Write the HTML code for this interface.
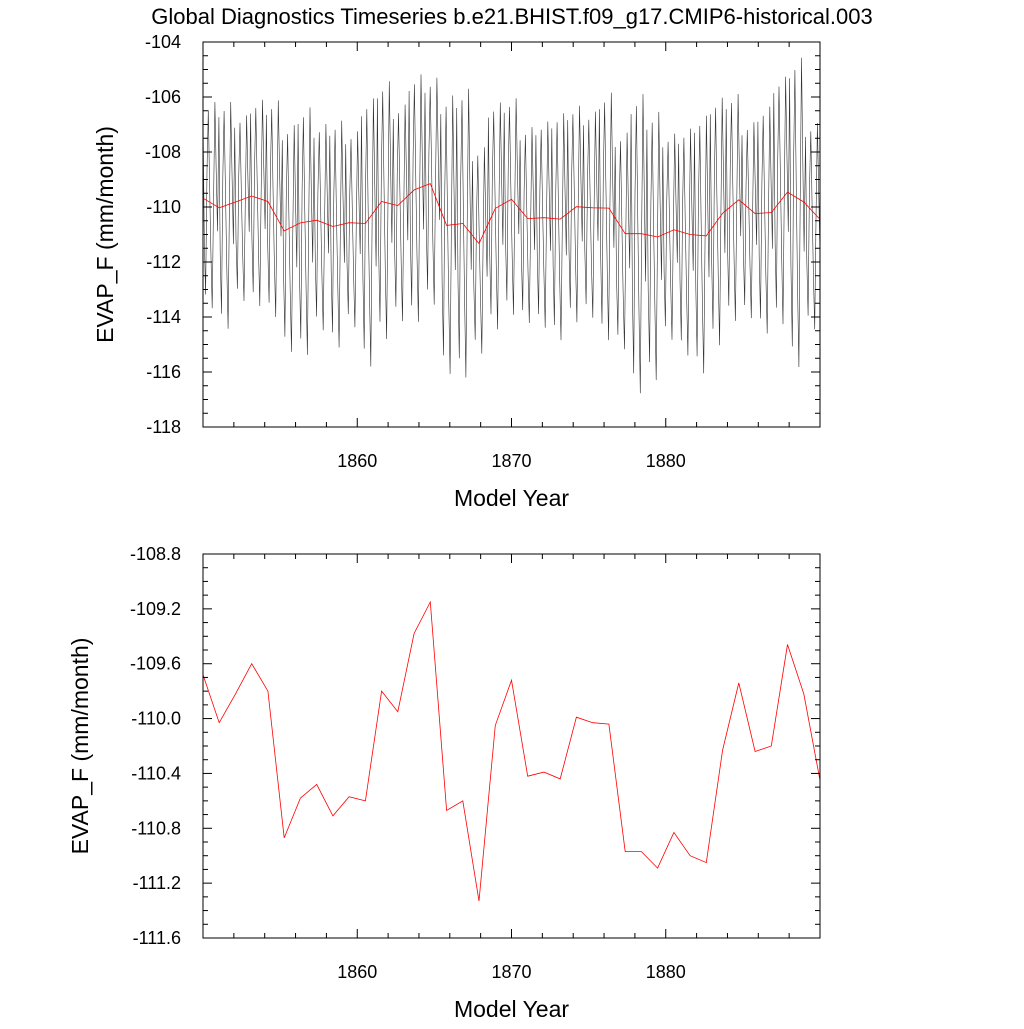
<!DOCTYPE html>
<html><head><meta charset="utf-8"><style>
body{margin:0;background:#fff}
text{font-family:"Liberation Sans",sans-serif;fill:#000}
</style></head><body>
<svg id="chart" width="1024" height="1024" xmlns="http://www.w3.org/2000/svg">
<text x="512" y="24" font-size="22" text-anchor="middle">Global Diagnostics Timeseries b.e21.BHIST.f09_g17.CMIP6-historical.003</text>
<g id="top"></g>
<g id="bot"></g>
</svg>
<script>
const annualMeans=[-109.68,-110.03,-109.82,-109.6,-109.8,-110.87,-110.58,-110.48,-110.71,-110.57,-110.6,-109.8,-109.95,-109.38,-109.15,-110.67,-110.6,-111.33,-110.05,-109.72,-110.42,-110.39,-110.44,-109.99,-110.03,-110.04,-110.97,-110.97,-111.09,-110.83,-111.0,-111.05,-110.23,-109.74,-110.24,-110.2,-109.46,-109.82,-110.45];
const seasonalAnom=[3.0,-1.5,-3.5,1.0,3.2,0.5,-2.0,-4.0,0.0,3.5,1.0,-1.2];
const yearAmp=[1.0,1.1,0.9,1.0,1.05,1.1,1.2,1.0,1.1,0.95,1.3,1.25,1.05,1.2,1.1,1.35,1.4,1.0,1.1,1.05,0.95,1.0,1.1,1.05,1.0,1.2,1.05,1.45,1.3,1.0,1.1,1.25,1.2,1.1,0.95,1.1,1.2,1.5,1.0];
const xTicks=[1860,1870,1880];
const topYTicks=[-104,-106,-108,-110,-112,-114,-116,-118];
const botYTicks=[-108.8,-109.2,-109.6,-110.0,-110.4,-110.8,-111.2,-111.6];

const NS="http://www.w3.org/2000/svg";
function el(p,t,a){const e=document.createElementNS(NS,t);for(const k in a)e.setAttribute(k,a[k]);p.appendChild(e);return e;}

function panel(g,top,bottom,ymax,ymin,yTicks,minorStep,dec,titleOff,series){
  const L=203,R=820,x0=1850,x1=1890;
  const X=v=>L+(v-x0)/(x1-x0)*(R-L);
  const Y=v=>top+(ymax-v)/(ymax-ymin)*(bottom-top);
  series.forEach(s=>{
    const pts=s.vals.map((v,i)=>X(x0+i*(x1-x0)/(s.vals.length-1)).toFixed(1)+','+Y(v).toFixed(1)).join(' ');
    const pl=el(g,'polyline',{points:pts,fill:'none',stroke:s.color,'stroke-width':s.w});
    
    
  });
  const fr=el(g,'rect',{x:L,y:top,width:R-L,height:bottom-top,fill:'none',stroke:'#000','stroke-width':1});
  
  
  for(let yr=1852;yr<1890;yr+=2){
    const major=xTicks.includes(yr);const len=major?9:5;
    el(g,'line',{x1:X(yr),x2:X(yr),y1:bottom,y2:bottom-len,stroke:'#000'});
    el(g,'line',{x1:X(yr),x2:X(yr),y1:top,y2:top+len,stroke:'#000'});
  }
  xTicks.forEach(v=>{
    const t=el(g,'text',{x:X(v),y:bottom+40,'font-size':18,'text-anchor':'middle'});t.textContent=v;
    
    
  });
  const n=Math.round((ymax-ymin)/minorStep);
  for(let i=0;i<=n;i++){
    const v=ymax-i*minorStep;const major=i%4===0;const len=major?9:5;
    el(g,'line',{x1:L,x2:L+len,y1:Y(v),y2:Y(v),stroke:'#000'});
    el(g,'line',{x1:R,x2:R-len,y1:Y(v),y2:Y(v),stroke:'#000'});
  }
  yTicks.forEach(v=>{
    const t=el(g,'text',{x:L-22,y:Y(v)+6,'font-size':18,'text-anchor':'end'});t.textContent=v.toFixed(dec);
    
    
  });
  const xt=el(g,'text',{x:(L+R)/2,y:bottom+79,'font-size':23,'text-anchor':'middle'});xt.textContent='Model Year';
  
  
  const cy=(top+bottom)/2;
  const yt=el(g,'text',{x:0,y:0,'font-size':23,'text-anchor':'middle',transform:`translate(${L-titleOff},${cy}) rotate(-90)`});yt.textContent='EVAP_F (mm/month)';
  
  
}
const monthly=[];
annualMeans.forEach((m,y)=>seasonalAnom.forEach(a=>monthly.push(m+a*yearAmp[y])));
panel(document.getElementById('top'),42,427,-104,-118,topYTicks,0.5,0,90,[
 {vals:monthly,color:'#333',w:0.6,name:'monthly-line'},
 {vals:annualMeans,color:'#f00',w:0.8,name:'annual-mean-line'}]);
panel(document.getElementById('bot'),554,938,-108.8,-111.6,botYTicks,0.1,1,115,[
 {vals:annualMeans,color:'#f00',w:0.8,name:'annual-mean-line'}]);
</script>
</body></html>
